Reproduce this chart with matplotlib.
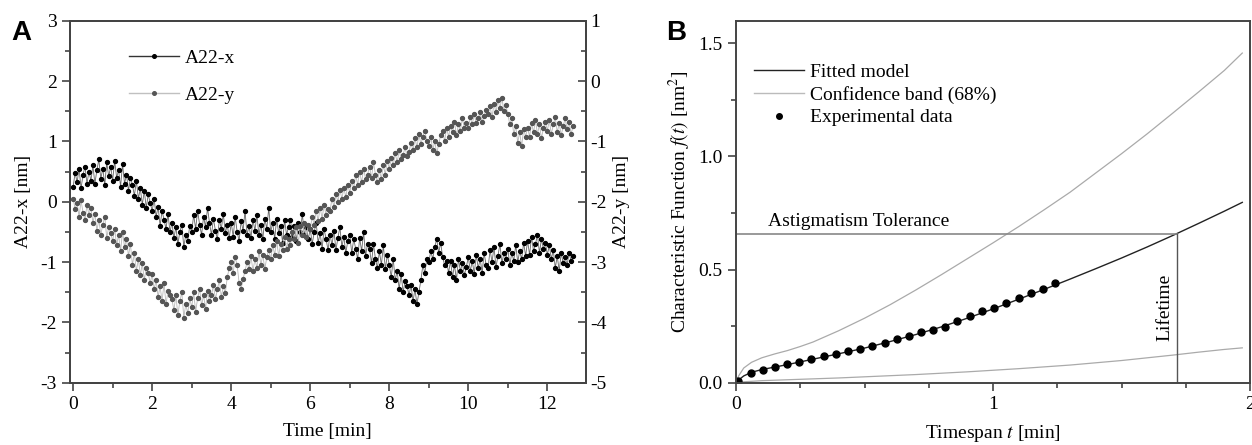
import numpy as np
import matplotlib
matplotlib.use('Agg')
import matplotlib.pyplot as plt
from matplotlib.ticker import MultipleLocator, FormatStrFormatter
from matplotlib.lines import Line2D

plt.rcParams['font.family'] = ['Liberation Serif', 'DejaVu Serif']
plt.rcParams['mathtext.fontset'] = 'stix'
plt.rcParams['axes.unicode_minus'] = False

# ---- panel A: astigmatism drift, sampled every 0.05 min ----
dt_min = 0.05
a22_x = [
    0.25, 0.48, 0.32, 0.55, 0.22, 0.45, 0.58, 0.30, 0.50, 0.35,
    0.60, 0.30, 0.52, 0.70, 0.38, 0.55, 0.28, 0.65, 0.42, 0.58,
    0.35, 0.68, 0.40, 0.52, 0.25, 0.62, 0.30, 0.45, 0.18, 0.40,
    0.28, 0.10, 0.35, 0.05, 0.22, -0.05, 0.18, -0.10, 0.12, -0.02,
    -0.15, 0.05, -0.25, -0.08, -0.40, -0.15, -0.30, -0.45, -0.20, -0.50,
    -0.35, -0.60, -0.42, -0.70, -0.50, -0.38, -0.75, -0.55, -0.65, -0.40,
    -0.50, -0.22, -0.45, -0.15, -0.38, -0.55, -0.25, -0.42, -0.10, -0.35,
    -0.55, -0.28, -0.48, -0.62, -0.30, -0.45, -0.20, -0.52, -0.38, -0.60,
    -0.35, -0.58, -0.25, -0.50, -0.65, -0.32, -0.48, -0.15, -0.55, -0.40,
    -0.60, -0.30, -0.48, -0.22, -0.55, -0.38, -0.62, -0.28, -0.45, -0.10,
    -0.50, -0.35, -0.62, -0.28, -0.52, -0.40, -0.68, -0.30, -0.55, -0.42,
    -0.30, -0.58, -0.40, -0.65, -0.35, -0.50, -0.20, -0.55, -0.42, -0.62,
    -0.45, -0.70, -0.50, -0.35, -0.68, -0.52, -0.78, -0.45, -0.62, -0.80,
    -0.55, -0.72, -0.48, -0.80, -0.60, -0.42, -0.75, -0.58, -0.85, -0.65,
    -0.55, -0.85, -0.62, -0.78, -0.95, -0.60, -0.82, -0.50, -0.90, -0.70,
    -0.78, -1.02, -0.70, -0.95, -1.10, -0.82, -1.05, -0.72, -1.12, -0.88,
    -1.05, -1.25, -0.95, -1.30, -1.15, -1.45, -1.20, -1.50, -1.32, -1.40,
    -1.55, -1.38, -1.65, -1.45, -1.70, -1.50, -1.30, -1.05, -1.18, -0.95,
    -1.00, -0.82, -0.95, -0.75, -0.62, -0.85, -0.68, -0.92, -1.05, -0.98,
    -1.18, -0.98, -1.25, -1.05, -1.30, -0.95, -1.15, -1.02, -1.22, -1.08,
    -0.92, -1.15, -0.98, -1.20, -0.88, -1.10, -0.95, -1.18, -0.85, -1.05,
    -1.10, -0.80, -1.00, -0.75, -1.08, -0.90, -0.70, -1.02, -0.85, -0.95,
    -0.78, -1.05, -0.85, -0.98, -0.72, -1.00, -0.82, -0.95, -0.68, -0.90,
    -0.65, -0.88, -0.58, -0.82, -0.70, -0.55, -0.85, -0.62, -0.78, -0.68,
    -0.88, -0.72, -0.95, -0.80, -1.10, -0.90, -1.15, -0.85, -1.02, -0.92,
    -1.05, -0.85, -0.98, -0.90,
]
a22_y = [
    -1.95, -2.12, -2.02, -2.25, -1.98, -2.18, -2.30, -2.05, -2.22, -2.10,
    -2.35, -2.20, -2.48, -2.30, -2.55, -2.38, -2.25, -2.60, -2.42, -2.52,
    -2.65, -2.45, -2.72, -2.55, -2.82, -2.50, -2.75, -2.62, -2.90, -2.70,
    -3.05, -2.85, -3.15, -2.95, -3.22, -3.02, -3.30, -3.10, -3.18, -3.35,
    -3.20, -3.45, -3.30, -3.58, -3.40, -3.65, -3.35, -3.70, -3.48, -3.55,
    -3.62, -3.80, -3.55, -3.88, -3.65, -3.50, -3.92, -3.70, -3.85, -3.60,
    -3.75, -3.50, -3.82, -3.60, -3.45, -3.72, -3.55, -3.78, -3.48, -3.65,
    -3.55, -3.38, -3.62, -3.45, -3.30, -3.58, -3.40, -3.52, -3.25, -3.10,
    -3.00, -3.18, -2.92, -3.05, -3.35, -3.45, -3.28, -3.15, -3.00, -3.12,
    -2.90, -3.15, -2.95, -3.10, -2.82, -3.05, -2.88, -3.12, -2.92, -2.80,
    -2.95, -2.72, -2.88, -2.65, -2.90, -2.70, -2.80, -2.58, -2.78, -2.62,
    -2.72, -2.50, -2.62, -2.42, -2.68, -2.40, -2.55, -2.35, -2.58, -2.38,
    -2.45, -2.25, -2.38, -2.15, -2.32, -2.10, -2.28, -2.05, -2.22, -2.12,
    -2.15, -1.95, -2.08, -1.88, -2.00, -1.80, -1.95, -1.78, -1.92, -1.72,
    -1.85, -1.65, -1.78, -1.55, -1.72, -1.50, -1.68, -1.45, -1.62, -1.55,
    -1.42, -1.60, -1.35, -1.55, -1.68, -1.48, -1.62, -1.40, -1.55, -1.32,
    -1.45, -1.28, -1.40, -1.20, -1.35, -1.15, -1.30, -1.22, -1.10, -1.25,
    -1.18, -1.02, -1.15, -0.95, -1.10, -0.88, -1.05, -0.92, -0.82, -1.00,
    -1.08, -0.92, -1.15, -1.00, -1.20, -1.05, -0.90, -0.82, -1.00, -0.78,
    -0.92, -0.75, -0.85, -0.68, -0.90, -0.72, -0.82, -0.62, -0.78, -0.70,
    -0.78, -0.60, -0.72, -0.55, -0.70, -0.62, -0.52, -0.68, -0.58, -0.48,
    -0.55, -0.42, -0.60, -0.38, -0.52, -0.32, -0.45, -0.28, -0.50, -0.40,
    -0.55, -0.72, -0.62, -0.88, -0.75, -1.02, -0.85, -1.08, -0.80, -0.92,
    -0.78, -0.92, -0.70, -0.85, -0.65, -0.88, -0.72, -0.95, -0.78, -0.68,
    -0.82, -0.65, -0.88, -0.72, -0.60, -0.85, -0.70, -0.90, -0.75, -0.62,
    -0.80, -0.68, -0.88, -0.75,
]
time_min = np.arange(len(a22_x)) * dt_min

# ---- panel B: characteristic function ----
exp_t = [0.007, 0.057, 0.105, 0.152, 0.198, 0.246, 0.293, 0.341, 0.389,
         0.437, 0.484, 0.530, 0.579, 0.625, 0.673, 0.720, 0.767, 0.813,
         0.861, 0.909, 0.957, 1.004, 1.052, 1.100, 1.147, 1.195, 1.241]
exp_f = [0.009, 0.043, 0.057, 0.069, 0.081, 0.093, 0.103, 0.116, 0.125,
         0.138, 0.147, 0.163, 0.176, 0.194, 0.205, 0.222, 0.232, 0.247,
         0.271, 0.293, 0.317, 0.332, 0.353, 0.375, 0.395, 0.416, 0.441]

fit_t = [0.0, 0.01, 0.03, 0.06, 0.10, 0.15, 0.20, 0.25, 0.30, 0.40, 0.50,
         0.60, 0.70, 0.80, 0.90, 1.00, 1.10, 1.20, 1.30, 1.40, 1.50, 1.60,
         1.70, 1.80, 1.90, 1.97]
fit_f = [0.0, 0.012, 0.030, 0.046, 0.058, 0.069, 0.080, 0.092, 0.104, 0.128,
         0.153, 0.182, 0.213, 0.247, 0.285, 0.326, 0.369, 0.413, 0.458,
         0.504, 0.551, 0.600, 0.651, 0.704, 0.758, 0.797]
band_hi = [0.0, 0.030, 0.065, 0.090, 0.110, 0.127, 0.142, 0.160, 0.180,
           0.230, 0.285, 0.345, 0.410, 0.478, 0.548, 0.618, 0.690, 0.765,
           0.842, 0.927, 1.012, 1.100, 1.192, 1.285, 1.380, 1.457]
band_lo = [0.0, 0.002, 0.004, 0.006, 0.009, 0.011, 0.013, 0.015, 0.017,
           0.021, 0.026, 0.031, 0.036, 0.042, 0.048, 0.055, 0.062, 0.070,
           0.078, 0.088, 0.098, 0.110, 0.122, 0.135, 0.147, 0.154]
tolerance = 0.659
lifetime = 1.715

spine_col = '#444444'
fs = 14

fig = plt.figure(figsize=(12.52, 4.45), dpi=100)

# ===== A =====
ax1 = fig.add_axes([0.0559, 0.14, 0.4119, 0.8135])
ax2 = ax1.twinx()

ax1.plot(time_min, a22_x, '-o', color='#666666', lw=0.6, ms=2.8,
         mfc='black', mec='black')
ax2.plot(time_min, a22_y, '-o', color='#b8b8b8', lw=0.6, ms=2.8,
         mfc='#555555', mec='#555555')

ax1.set_xlim(-0.08, 12.97)
ax1.set_ylim(-3, 3)
ax2.set_ylim(-5, 1)
ax1.xaxis.set_major_locator(MultipleLocator(2))
ax1.xaxis.set_minor_locator(MultipleLocator(1))
for a in (ax1, ax2):
    a.yaxis.set_major_locator(MultipleLocator(1))
    a.yaxis.set_minor_locator(MultipleLocator(0.5))
    for s in a.spines.values():
        s.set_color(spine_col)
        s.set_linewidth(1.4)

ax1.tick_params(which='both', direction='out', colors=spine_col,
                labelcolor='black', labelsize=fs, right=False, top=False)
ax1.tick_params(which='major', length=6, width=1.2)
ax1.tick_params(which='minor', length=3.5, width=1.2)
ax2.tick_params(which='both', direction='in', colors=spine_col,
                labelcolor='black', labelsize=fs)
ax2.tick_params(which='major', length=6, width=1.2)
ax2.tick_params(which='minor', length=3.5, width=1.2)

ax1.set_xlabel('Time [min]', fontsize=fs, labelpad=7)
ax1.set_ylabel('A22-x [nm]', fontsize=fs, labelpad=6)
ax2.set_ylabel('A22-y [nm]', fontsize=fs, labelpad=4)

handles = [
    Line2D([], [], color='#333333', lw=1.0, marker='o', ms=2.6, mfc='black', mec='black'),
    Line2D([], [], color='#c0c0c0', lw=1.0, marker='o', ms=2.6, mfc='#555555', mec='#555555'),
]
ax2.legend(handles, ['A22-x', 'A22-y'], loc='upper left', bbox_to_anchor=(0.08, 0.97),
           frameon=False, fontsize=fs, handlelength=2.6, labelspacing=1.0,
           handletextpad=0.3)

fig.text(0.009, 0.91, 'A', fontsize=20, fontweight='bold',
         family='Liberation Sans')

# ===== B =====
bx = fig.add_axes([0.5879, 0.14, 0.4105, 0.8135])
bx.plot(fit_t, band_hi, color='#aaaaaa', lw=0.9)
bx.plot(fit_t, band_lo, color='#aaaaaa', lw=0.9)
bx.plot(fit_t, fit_f, color='#222222', lw=1.0)
bx.plot(exp_t, exp_f, 'o', color='black', ms=5)

bx.plot([0, lifetime], [tolerance, tolerance], color='#888888', lw=1.2)
bx.plot([lifetime, lifetime], [0, tolerance], color='#555555', lw=1.0)
bx.text(0.125, tolerance + 0.015, 'Astigmatism Tolerance', fontsize=fs,
        ha='left', va='bottom')
bx.text(lifetime - 0.015, 0.335, 'Lifetime', fontsize=fs, rotation=90,
        ha='right', va='center')

bx.set_xlim(0, 2)
bx.set_ylim(0, 1.6)
bx.xaxis.set_major_locator(MultipleLocator(1))
bx.xaxis.set_minor_locator(MultipleLocator(0.25))
bx.yaxis.set_major_locator(MultipleLocator(0.5))
bx.yaxis.set_minor_locator(MultipleLocator(0.25))
bx.yaxis.set_major_formatter(FormatStrFormatter('%.1f'))
for s in bx.spines.values():
    s.set_color(spine_col)
    s.set_linewidth(1.4)
bx.tick_params(which='both', direction='out', colors=spine_col,
               labelcolor='black', labelsize=fs, right=False, top=False)
bx.tick_params(which='major', length=6, width=1.2)
bx.tick_params(which='minor', length=3.5, width=1.2)

bx.set_xlabel('Timespan $t$ [min]', fontsize=fs, labelpad=7)
bx.set_ylabel('Characteristic Function $f(t)$ [nm$^2$]', fontsize=fs, labelpad=4)

bh = [
    Line2D([], [], color='#222222', lw=1.0),
    Line2D([], [], color='#bbbbbb', lw=1.0),
    Line2D([], [], color='black', ls='', marker='o', ms=4),
]
bx.legend(bh, ['Fitted model', 'Confidence band (68%)', 'Experimental data'],
          loc='upper left', bbox_to_anchor=(0.0, 0.93), frameon=False,
          fontsize=fs, handlelength=2.6, labelspacing=0.25, handletextpad=0.3)

fig.text(0.532, 0.91, 'B', fontsize=20, fontweight='bold',
         family='Liberation Sans')

fig.savefig('out.png', dpi=100)
